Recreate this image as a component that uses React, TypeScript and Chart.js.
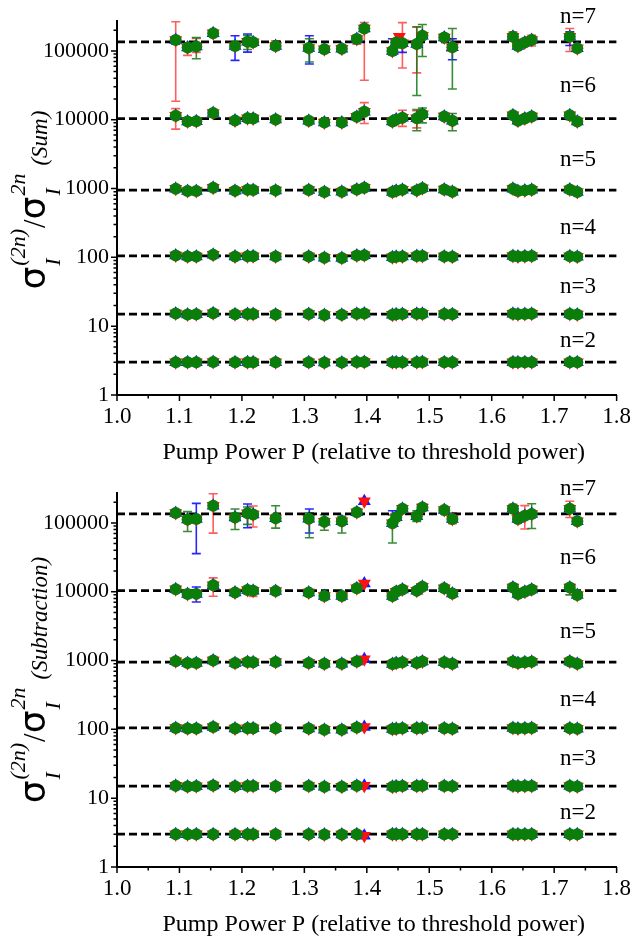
import React, { useEffect, useRef } from 'react';
import { Chart, registerables } from 'chart.js';

Chart.register(...registerables);

// ---------- data ----------
const xValues = [1.094, 1.113, 1.127, 1.154, 1.189, 1.209, 1.218, 1.254, 1.307, 1.332, 1.36, 1.384, 1.396, 1.441, 1.447, 1.457, 1.48, 1.489, 1.524, 1.537, 1.634, 1.642, 1.653, 1.664, 1.725, 1.737];

const theoryValues = [3, 15, 105, 945, 10395, 135135];
const nLabels = ['n=2', 'n=3', 'n=4', 'n=5', 'n=6', 'n=7'];
const nLabelValues = [6.2, 37, 270, 2600, 31000, 315000];
const nLabelX = 1.738;

const xTickValues = [1.0, 1.1, 1.2, 1.3, 1.4, 1.5, 1.6, 1.7, 1.8];
const xMinorTickValues = [1.05, 1.15, 1.25, 1.35, 1.45, 1.55, 1.65, 1.75];
const yTickValues = [1, 10, 100, 1000, 10000, 100000];

// Sum panel (green / common values), n = 2..7
const sumN2 = [3.0, 2.98, 2.98, 3.02, 2.99, 3.0, 3.0, 2.99, 3.0, 2.97, 2.96, 3.01, 3.02, 2.98, 2.99, 3.0, 3.0, 3.01, 3.0, 2.99, 3.0, 2.99, 3.0, 3.0, 3.0, 2.99];
const sumN3 = [15.3, 14.8, 14.9, 15.4, 14.9, 15.0, 15.0, 14.8, 15.0, 14.5, 14.6, 15.2, 15.3, 14.7, 14.9, 15.0, 15.1, 15.2, 15.0, 14.9, 15.1, 14.9, 15.0, 15.1, 15.0, 14.8];
const sumN4 = [106, 103, 103, 109, 103, 104, 104, 103, 103, 99, 98, 106, 107, 100, 102, 103, 105, 105, 103, 102, 105, 103, 104, 105, 104, 102];
const sumN5 = [990, 920, 920, 1030, 930, 960, 950, 940, 950, 890, 900, 970, 1030, 890, 930, 960, 940, 1010, 970, 900, 990, 920, 940, 960, 970, 890];
const sumN6 = [11400, 9400, 9500, 12500, 9700, 10500, 10400, 10100, 9650, 9100, 9100, 11000, 13100, 9400, 10100, 10700, 10500, 12000, 11100, 9650, 11600, 9650, 10400, 11100, 11600, 9400];
const sumN7 = [144000, 112000, 116000, 180000, 118000, 136000, 133000, 118000, 110000, 106000, 107000, 149000, 212000, 100000, 132000, 129000, 126000, 166000, 156000, 113000, 161000, 118000, 132000, 144000, 161000, 109000];
const sumRedExtraX = [1.452];
const sumRedExtraY = [161000];

// Subtraction panel (green / common values), n = 2..7
const subN2 = [3.0, 2.98, 2.98, 3.0, 2.99, 3.0, 3.0, 2.99, 3.0, 2.97, 2.97, 3.0, null, 2.98, 2.99, 3.0, 3.0, 3.0, 3.0, 2.99, 3.0, 2.99, 3.0, 3.0, 3.0, 2.99];
const subN3 = [15.2, 14.8, 14.9, 15.3, 14.9, 15.0, 15.0, 14.9, 15.0, 14.6, 14.6, 15.1, null, 14.7, 14.9, 15.0, 15.0, 15.1, 15.0, 14.9, 15.1, 14.9, 15.0, 15.0, 15.0, 14.8];
const subN4 = [105, 103, 103, 108, 103, 104, 104, 104, 103, 99, 99, 106, null, 101, 102, 104, 104, 105, 104, 102, 105, 103, 104, 105, 104, 102];
const subN5 = [975, 920, 920, 1000, 920, 950, 945, 950, 920, 900, 900, 970, null, 890, 920, 945, 920, 970, 945, 900, 970, 920, 945, 960, 970, 900];
const subN6 = [10900, 9240, 9300, 12400, 9700, 10550, 10300, 10200, 9700, 8650, 8650, 11200, null, 8650, 10000, 10800, 10350, 11800, 11200, 9450, 11500, 9240, 10000, 10800, 11500, 8950];
const subN7 = [139000, 112000, 114000, 178000, 120000, 138000, 132000, 117000, 115000, 104000, 106000, 143000, null, 99000, 121000, 160000, 125000, 168000, 154000, 114000, 160000, 114000, 127000, 135000, 160000, 106000];
const subStarX = 1.396;
const subStarValues = [2.85, 15.2, 108, 1040, 13200, 206000];

// error bars: [x, low, high]
const sumErrRed = [[1.094, 18500, 265000], [1.094, 7300, 14500], [1.113, 86000, 125000], [1.127, 95000, 152000], [1.254, 105000, 140000], [1.384, 125000, 170000], [1.396, 37500, 259000], [1.396, 8800, 17700], [1.457, 56500, 257000], [1.457, 8000, 13700], [1.48, 47900, 220000], [1.48, 7600, 13500], [1.534, 100000, 150000], [1.634, 140000, 190000], [1.664, 118000, 168000], [1.725, 98000, 212000], [1.725, 10000, 13000]];
const sumErrBlue = [[1.094, 125000, 162000], [1.189, 72800, 166000], [1.209, 95800, 176000], [1.308, 64500, 166000], [1.441, 88000, 150000], [1.537, 74500, 150000], [1.725, 120000, 190000], [1.457, 95000, 140000]];
const sumErrGreen = [[1.127, 76800, 156000], [1.209, 105000, 168000], [1.308, 68800, 150000], [1.447, 110000, 145000], [1.48, 22500, 224000], [1.489, 83000, 242000], [1.537, 28000, 212000], [1.48, 6900, 14000], [1.489, 9000, 14800], [1.537, 6900, 12300]];

const subErrRed = [[1.154, 71000, 265000], [1.154, 8600, 15900], [1.218, 87000, 176000], [1.218, 8500, 11500], [1.537, 97500, 140000], [1.634, 140000, 186000], [1.653, 81500, 178000], [1.725, 120000, 206000]];
const subErrBlue = [[1.127, 35700, 192000], [1.127, 7100, 11700], [1.209, 85000, 188000], [1.308, 71300, 159000], [1.441, 90000, 150000], [1.094, 125000, 155000]];
const subErrGreen = [[1.113, 75000, 146000], [1.189, 80000, 159000], [1.209, 95000, 170000], [1.254, 84000, 177000], [1.308, 60700, 140000], [1.332, 78000, 131000], [1.36, 71300, 125000], [1.441, 51000, 130000], [1.48, 105000, 150000], [1.664, 83000, 190000], [1.441, 7700, 9500], [1.725, 9000, 12500]];

const xTitle = 'Pump Power P (relative to threshold power)';

// ---------- helpers ----------
const SERIF = '"Liberation Serif", "Times New Roman", serif';

function toPoints(rows: (number | null)[][]) {
  const pts: { x: number; y: number }[] = [];
  rows.forEach((row) => row.forEach((v, i) => { if (v != null) pts.push({ x: xValues[i], y: v }); }));
  return pts;
}

function drawYTitle(ctx: CanvasRenderingContext2D, cx: number, cy: number, tag: string) {
  const SIG = '36px "DejaVu Sans"';
  const IT = `italic 23px ${SERIF}`;
  const SUP = `italic 22px ${SERIF}`;
  const SL = `31px ${SERIF}`;
  type Piece = { t: string; f: string; dy: number; stack?: boolean; gap?: number };
  const pieces: Piece[] = [
    { t: 'σ', f: SIG, dy: 0 },
    { t: 'I', f: SUP, dy: 15, stack: true, gap: 1 },
    { t: '(2n)', f: SUP, dy: -20 },
    { t: '/', f: SL, dy: 0, gap: 1 },
    { t: 'σ', f: SIG, dy: 0 },
    { t: 'I', f: SUP, dy: 15, stack: true, gap: 1 },
    { t: '2n', f: SUP, dy: -20 },
    { t: `(${tag})`, f: IT, dy: 2, gap: 8 },
  ];
  ctx.save();
  const layout: { p: Piece; s: number }[] = [];
  let s = 0;
  for (let i = 0; i < pieces.length; i++) {
    const p = pieces[i];
    ctx.font = p.f;
    s += p.gap || 0;
    if (p.stack) {
      const q = pieces[i + 1];
      const w1 = ctx.measureText(p.t).width;
      ctx.font = q.f;
      const w2 = ctx.measureText(q.t).width;
      layout.push({ p, s });
      layout.push({ p: q, s });
      s += Math.max(w1, w2);
      i++;
    } else {
      const w = ctx.measureText(p.t).width;
      layout.push({ p, s });
      s += w;
    }
  }
  const total = s;
  ctx.translate(cx, cy);
  ctx.rotate(-Math.PI / 2);
  ctx.fillStyle = '#000';
  ctx.textAlign = 'left';
  ctx.textBaseline = 'alphabetic';
  for (const l of layout) {
    ctx.font = l.p.f;
    ctx.fillText(l.p.t, l.s - total / 2, l.p.dy);
  }
  ctx.restore();
}

type PanelProps = {
  rows: (number | null)[][];
  redExtra: { x: number; y: number }[];
  blueExtra: { x: number; y: number }[];
  errRed: number[][];
  errBlue: number[][];
  errGreen: number[][];
  tag: string;
  titleShift: number;
};

function Panel(props: PanelProps) {
  const ref = useRef<HTMLCanvasElement>(null);
  useEffect(() => {
    const canvas = ref.current!;
    const green = toPoints(props.rows);
    const red = green.concat(props.redExtra);
    const blue = green.concat(props.blueExtra);

    const theoryDatasets = theoryValues.map((v) => ({
      type: 'line' as const,
      data: [{ x: 1.0, y: v }, { x: 1.8, y: v }],
      borderColor: '#000',
      borderWidth: 2.8,
      borderDash: [8, 4],
      pointRadius: 0,
      order: 5,
    }));

    const errPlugin = {
      id: 'errbars',
      beforeDatasetsDraw(chart: any) {
        const { ctx, scales } = chart;
        const sx = scales.x, sy = scales.y;
        const sets: [number[][], string][] = [
          [props.errRed, 'rgba(255,40,40,0.75)'],
          [props.errBlue, 'rgba(0,0,255,0.85)'],
          [props.errGreen, 'rgba(20,120,20,0.85)'],
        ];
        ctx.save();
        ctx.lineWidth = 1.6;
        for (const [arr, col] of sets) {
          ctx.strokeStyle = col;
          for (const [x, lo, hi] of arr) {
            const px = sx.getPixelForValue(x);
            const p1 = sy.getPixelForValue(lo);
            const p2 = sy.getPixelForValue(hi);
            ctx.beginPath();
            ctx.moveTo(px, p1); ctx.lineTo(px, p2);
            ctx.moveTo(px - 4.5, p1); ctx.lineTo(px + 4.5, p1);
            ctx.moveTo(px - 4.5, p2); ctx.lineTo(px + 4.5, p2);
            ctx.stroke();
          }
        }
        ctx.restore();
      },
    };

    const decorPlugin = {
      id: 'decor',
      afterDraw(chart: any) {
        const { ctx, chartArea, scales } = chart;
        const sx = scales.x, sy = scales.y;
        ctx.save();
        ctx.strokeStyle = '#000';
        ctx.lineWidth = 1.5;
        ctx.beginPath();
        for (const v of xTickValues) {
          const px = sx.getPixelForValue(v);
          ctx.moveTo(px, chartArea.bottom); ctx.lineTo(px, chartArea.bottom + 6);
        }
        for (const v of xMinorTickValues) {
          const px = sx.getPixelForValue(v);
          ctx.moveTo(px, chartArea.bottom); ctx.lineTo(px, chartArea.bottom + 3.5);
        }
        for (const v of yTickValues) {
          const py = sy.getPixelForValue(v);
          ctx.moveTo(chartArea.left - 6, py); ctx.lineTo(chartArea.left, py);
          for (let m = 2; m <= 9; m++) {
            const mv = v * m;
            if (mv > sy.max) break;
            const pm = sy.getPixelForValue(mv);
            ctx.moveTo(chartArea.left - 3.5, pm); ctx.lineTo(chartArea.left, pm);
          }
        }
        ctx.stroke();

        ctx.fillStyle = '#000';
        ctx.font = `23px ${SERIF}`;
        ctx.textAlign = 'center';
        ctx.textBaseline = 'middle';
        nLabels.forEach((t, i) => {
          ctx.fillText(t, sx.getPixelForValue(nLabelX), sy.getPixelForValue(nLabelValues[i]));
        });

        ctx.font = `24px ${SERIF}`;
        ctx.fillText(xTitle, (chartArea.left + chartArea.right) / 2 + 7, chartArea.bottom + 58);
        ctx.restore();

        drawYTitle(ctx, 45, (chartArea.top + chartArea.bottom) / 2 + props.titleShift, props.tag);
      },
    };

    const chart = new Chart(canvas, {
      type: 'scatter',
      data: {
        datasets: [
          { data: green, pointStyle: 'circle', pointRadius: 6, backgroundColor: '#0a7d0a', borderWidth: 0, order: 0 } as any,
          { data: red, pointStyle: 'triangle', pointRotation: 180, pointRadius: 7.5, backgroundColor: '#ff1010', borderWidth: 0, order: 1 } as any,
          { data: blue, pointStyle: 'triangle', pointRadius: 7.5, backgroundColor: '#1515ff', borderWidth: 0, order: 2 } as any,
          ...theoryDatasets,
        ],
      },
      options: {
        animation: false,
        responsive: false,
        devicePixelRatio: 1,
        layout: { padding: { top: 18, right: 16, left: 0, bottom: 0 } },
        plugins: { legend: { display: false }, tooltip: { enabled: false } },
        scales: {
          x: {
            type: 'linear',
            min: 1.0,
            max: 1.8,
            grid: { display: false, drawTicks: false },
            border: { display: true, color: '#000', width: 2 },
            ticks: {
              stepSize: 0.1,
              autoSkip: false,
              maxRotation: 0,
              padding: 8,
              color: '#000',
              font: { family: SERIF, size: 23 },
              callback: (v: any) => Number(v).toFixed(1),
            },
            afterFit: (s: any) => { s.height = 71; },
          },
          y: {
            type: 'logarithmic',
            min: 1,
            max: 270000,
            grid: { display: false, drawTicks: false },
            border: { display: true, color: '#000', width: 2 },
            ticks: {
              autoSkip: false,
              padding: 8,
              color: '#000',
              font: { family: SERIF, size: 22 },
              callback: (v: any) => {
                const l = Math.log10(Number(v));
                return Math.abs(l - Math.round(l)) < 1e-9 ? String(Math.round(Number(v))) : '';
              },
            },
            afterFit: (s: any) => { s.width = 117; },
          },
        },
      } as any,
      plugins: [errPlugin, decorPlugin],
    });
    return () => chart.destroy();
  }, []);
  return <canvas ref={ref} width={639} height={466} style={{ display: 'block', width: 639, height: 466 }} />;
}

export default function App() {
  const starPts = subStarValues.map((v) => ({ x: subStarX, y: v }));
  const sumRed = sumRedExtraX.map((x, i) => ({ x, y: sumRedExtraY[i] }));
  return (
    <div style={{ position: 'absolute', left: 0, top: 0, width: 639, height: 938, background: '#fff' }}>
      <div style={{ position: 'absolute', left: 0, top: 0 }}>
        <Panel
          rows={[sumN2, sumN3, sumN4, sumN5, sumN6, sumN7]}
          redExtra={sumRed}
          blueExtra={[]}
          errRed={sumErrRed}
          errBlue={sumErrBlue}
          errGreen={sumErrGreen}
          tag="Sum"
          titleShift={-8}
        />
      </div>
      <div style={{ position: 'absolute', left: 0, top: 472 }}>
        <Panel
          rows={[subN2, subN3, subN4, subN5, subN6, subN7]}
          redExtra={starPts}
          blueExtra={starPts}
          errRed={subErrRed}
          errBlue={subErrBlue}
          errGreen={subErrGreen}
          tag="Subtraction"
          titleShift={0}
        />
      </div>
    </div>
  );
}
